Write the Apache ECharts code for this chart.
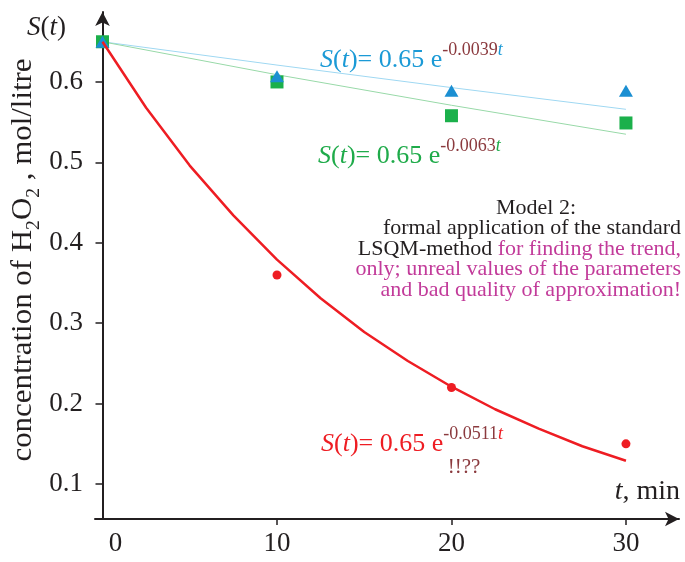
<!DOCTYPE html>
<html><head><meta charset="utf-8">
<script src="https://cdn.jsdelivr.net/npm/echarts@6/dist/echarts.min.js"></script>
<style>html,body{margin:0;padding:0;background:#fff}#c{width:685px;height:562px}</style>
</head><body><div id="c"></div>
<script>
// ---- data ----
const xTicks = [0, 10, 20, 30];
const yTicks = [0.1, 0.2, 0.3, 0.4, 0.5, 0.6];
const tMeas = [0, 10, 20, 30];
const redPoints = [0.65, 0.36, 0.22, 0.15];
const bluePoints = [0.65, 0.607, 0.589, 0.589];
const greenPoints = [0.65, 0.60, 0.558, 0.549];
const tFit = [0, 10, 20, 30];
const blueFit = [0.65, 0.621, 0.593, 0.566];
const greenFit = [0.65, 0.609, 0.571, 0.535];
const tRed = [0, 2.5, 5, 7.5, 10, 12.5, 15, 17.5, 20, 22.5, 25, 27.5, 30];
const redFit = [0.65, 0.568, 0.496, 0.434, 0.379, 0.331, 0.289, 0.253, 0.221, 0.193, 0.169, 0.147, 0.129];

const zip = (a, b) => a.map((v, i) => [v, b[i]]);
const F = '"Liberation Serif", "Times New Roman", serif';
const BLACK = '#231f20', RED = '#ee1d23', BLUE = '#1b9ad6', GREEN = '#1fab4a', MAROON = '#8b3a3e', MAG = '#c23b9a';

const chart = echarts.init(document.getElementById('c'));
function eqRich(col) {
  return {
    m: { fontFamily: F, fontSize: 26, fill: col, lineHeight: 32, verticalAlign: 'bottom' },
    mi: { fontFamily: F, fontSize: 26, fill: col, fontStyle: 'italic', lineHeight: 32, verticalAlign: 'bottom' },
    s: { fontFamily: F, fontSize: 18, fill: MAROON, lineHeight: 32, verticalAlign: 'top' },
    si: { fontFamily: F, fontSize: 18, fill: col, fontStyle: 'italic', lineHeight: 32, verticalAlign: 'top' }
  };
}
const option = {
  animation: false,
  grid: { left: 95, right: 6, top: 12, bottom: 43 },
  xAxis: {
    type: 'value', min: -0.43, max: 33.04,
    splitLine: { show: false },
    axisLine: { onZero: false, lineStyle: { color: BLACK, width: 2 }, symbol: ['none', 'arrow'], symbolSize: [11, 14] },
    axisTick: { customValues: xTicks.slice(1), length: 6, lineStyle: { color: BLACK, width: 1.5 } },
    axisLabel: {
      customValues: xTicks, margin: 11, color: BLACK, fontFamily: F, fontSize: 27,
      formatter: v => v === 0 ? '{z|0}' : String(v),
      rich: { z: { fontFamily: F, fontSize: 27, color: BLACK, padding: [0, 0, 0, 26] } }
    }
  },
  yAxis: {
    type: 'value', min: 0.0565, max: 0.687,
    splitLine: { show: false },
    axisLine: { onZero: true, lineStyle: { color: BLACK, width: 2 }, symbol: ['none', 'arrow'], symbolSize: [11, 14] },
    axisTick: { customValues: yTicks, length: 7, lineStyle: { color: BLACK, width: 1.5 } },
    axisLabel: { customValues: yTicks, margin: 12, color: BLACK, fontFamily: F, fontSize: 27, formatter: v => String(+v.toFixed(1)) }
  },
  series: [
    { type: 'line', data: zip(tFit, blueFit), symbol: 'none', lineStyle: { color: '#9fd8f2', width: 1 }, z: 2 },
    { type: 'line', data: zip(tFit, greenFit), symbol: 'none', lineStyle: { color: '#98d9a8', width: 1 }, z: 2 },
    { type: 'scatter', data: zip(tMeas, redPoints), symbol: 'circle', symbolSize: 9, itemStyle: { color: RED, opacity: 1 }, z: 3 },
    { type: 'scatter', data: zip(tMeas, greenPoints), symbol: 'rect', symbolSize: 13, itemStyle: { color: '#1bb04b', opacity: 1 }, z: 4 },
    { type: 'scatter', data: zip(tMeas, bluePoints), symbol: 'triangle', symbolSize: [14, 12], itemStyle: { color: '#1b8fd2', opacity: 1 }, z: 5 },
    { type: 'line', data: zip(tRed, redFit), symbol: 'none', lineStyle: { color: RED, width: 2.5 }, z: 6 }
  ],
  graphic: [
    { type: 'text', left: 27, top: 14, style: { text: '{i|S}{n|(}{i|t}{n|)}', rich: {
      i: { fontFamily: F, fontSize: 27, fontStyle: 'italic', fill: BLACK },
      n: { fontFamily: F, fontSize: 27, fill: BLACK } } } },
    { type: 'text', right: 5, top: 478, style: { text: '{i|t}{n|, min}', rich: {
      i: { fontFamily: F, fontSize: 28, fontStyle: 'italic', fill: BLACK },
      n: { fontFamily: F, fontSize: 28, fill: BLACK } } } },
    { type: 'text', x: 21, y: 260, rotation: Math.PI / 2, scaleX: 1.03, style: {
      text: '{n|concentration of H}{s|2}{n|O}{s|2}{n| , mol/litre}', align: 'center', verticalAlign: 'middle',
      rich: { n: { fontFamily: F, fontSize: 30, fill: BLACK, lineHeight: 34, verticalAlign: 'bottom' },
              s: { fontFamily: F, fontSize: 19, fill: BLACK, lineHeight: 34, verticalAlign: 'bottom', padding: [0, 0, -6, 0] } } } },
    { type: 'text', x: 320, y: 57, style: { text: '{mi|S}{m|(}{mi|t}{m|)= 0.65 e}{s|-0.0039}{si|t}', verticalAlign: 'middle', rich: eqRich(BLUE) } },
    { type: 'text', x: 318, y: 153, style: { text: '{mi|S}{m|(}{mi|t}{m|)= 0.65 e}{s|-0.0063}{si|t}', verticalAlign: 'middle', rich: eqRich(GREEN) } },
    { type: 'text', x: 321, y: 441, style: { text: '{mi|S}{m|(}{mi|t}{m|)= 0.65 e}{s|-0.0511}{si|t}', verticalAlign: 'middle', rich: eqRich(RED) } },
    { type: 'text', x: 464, y: 467, style: { text: '!!??', align: 'center', verticalAlign: 'middle', fontFamily: F, fontSize: 21, fill: MAROON } },
    { type: 'text', x: 536, y: 208, style: { text: 'Model 2:', align: 'center', verticalAlign: 'middle', fontFamily: F, fontSize: 22, fill: BLACK } },
    { type: 'text', x: 681, y: 259, style: {
      text: '{b|formal application of the standard}\n{b|LSQM-method }{p|for finding the trend,}\n{p|only; unreal values of the parameters}\n{p|and bad quality of approximation!}',
      align: 'right', verticalAlign: 'middle',
      rich: { b: { fontFamily: F, fontSize: 22, fill: BLACK, lineHeight: 20.5 },
              p: { fontFamily: F, fontSize: 22, fill: MAG, lineHeight: 20.5 } } } }
  ]
};
chart.setOption(option);
</script></body></html>
